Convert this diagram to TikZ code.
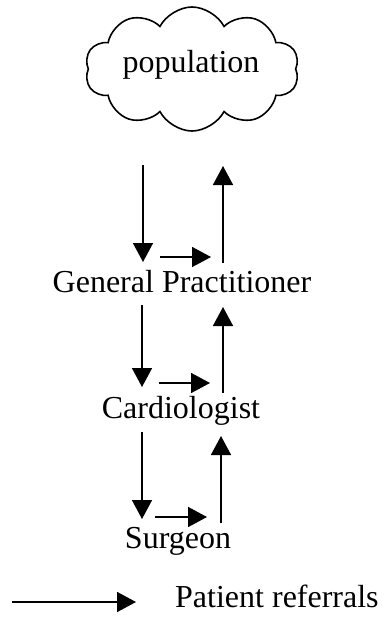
\documentclass[tikz,border=0pt]{standalone}
\usepackage{fontspec}
\setmainfont{Liberation Serif}
\usetikzlibrary{arrows.meta,shapes.symbols}
\begin{document}
\begin{tikzpicture}[x=1pt,y=-1pt,
  lbl/.style={font=\fontsize{32}{38}\selectfont, inner sep=0pt, anchor=base},
  ref/.style={line width=1.6pt, -{Triangle[length=19pt,width=20pt]}},
  cloudbox/.style={cloud, draw, line width=1.6pt, cloud puffs=10, cloud puff arc=125,
    cloud ignores aspect, minimum width=214pt, minimum height=124pt, inner sep=0pt}]
\useasboundingbox (0,0) rectangle (383,623);
\node[cloudbox] (cloudn) at (192,69) {};
\node[lbl] (pop) at (191,73) {population};
\node[lbl] (gp) at (182,292) {General Practitioner};
\node[lbl] (card) at (181,418) {Cardiologist};
\node[lbl] (surg) at (178,548) {Surgeon};
\node[lbl, anchor=base west] (leg) at (175,607) {Patient referrals};
% coordinates for arrows
\coordinate (d1a) at (143,165); \coordinate (d1b) at (143,262);
\coordinate (u1a) at (223,263); \coordinate (u1b) at (223,166);
\coordinate (r1a) at (160,257); \coordinate (r1b) at (211,257);
\coordinate (d2a) at (142,305); \coordinate (d2b) at (142,387);
\coordinate (u2a) at (223,393); \coordinate (u2b) at (223,307);
\coordinate (r2a) at (159,383); \coordinate (r2b) at (210,383);
\coordinate (d3a) at (142,432); \coordinate (d3b) at (142,519);
\coordinate (u3a) at (221,523); \coordinate (u3b) at (221,436);
\coordinate (r3a) at (155,517); \coordinate (r3b) at (207,517);
\coordinate (la) at (12,602); \coordinate (lb) at (136,602);
\draw[ref] (d1a) -- (d1b);
\draw[ref] (u1a) -- (u1b);
\draw[ref] (r1a) -- (r1b);
\draw[ref] (d2a) -- (d2b);
\draw[ref] (u2a) -- (u2b);
\draw[ref] (r2a) -- (r2b);
\draw[ref] (d3a) -- (d3b);
\draw[ref] (u3a) -- (u3b);
\draw[ref] (r3a) -- (r3b);
\draw[ref] (la) -- (lb);
\end{tikzpicture}
\end{document}
